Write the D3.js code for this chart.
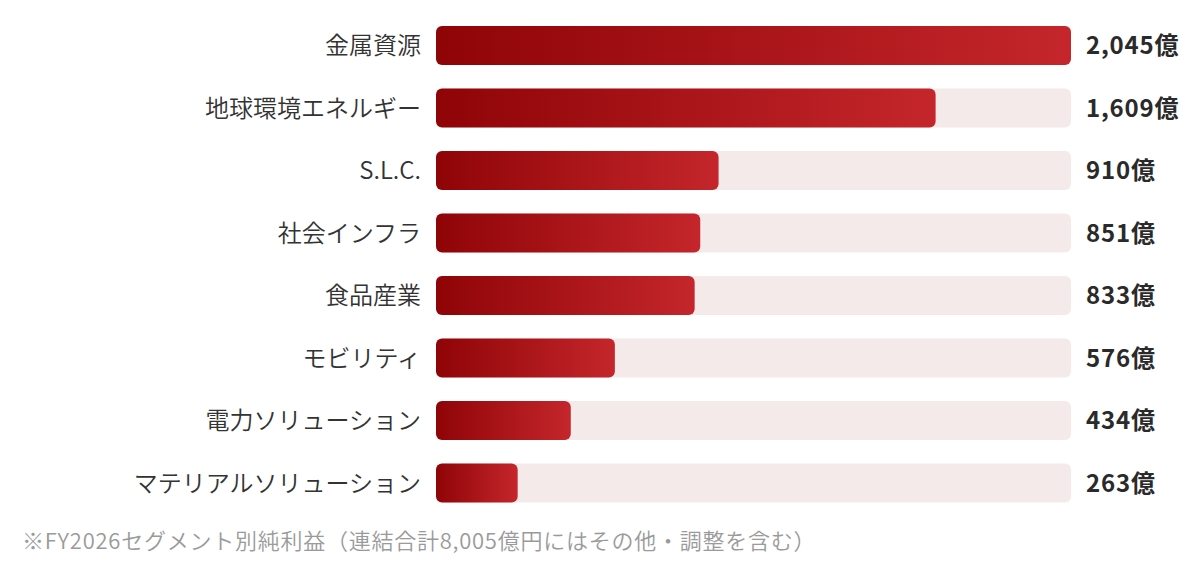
<!DOCTYPE html>
<html>
<head>
<meta charset="utf-8">
<script src="https://cdn.jsdelivr.net/npm/d3@7"></script>
<style>
  body { margin: 0; background: #fff; }
  svg { display: block; font-family: "Noto Sans CJK JP", "Noto Sans", sans-serif; }
  .label { font-size: 24px; fill: #333; font-weight: 350; }
  .value { font-size: 24px; font-weight: bold; fill: #2a2a2a; letter-spacing: 0.8px; }
  .note { font-size: 22px; fill: #9a9a9a; letter-spacing: 0.75px; font-weight: 350; }
</style>
</head>
<body>
<div id="chart"></div>
<script>
// segments and net profit (億円)
const segments = ["金属資源", "地球環境エネルギー", "S.L.C.", "社会インフラ", "食品産業", "モビリティ", "電力ソリューション", "マテリアルソリューション"];
const profits = [2045, 1609, 910, 851, 833, 576, 434, 263];
const valueLabels = ["2,045億", "1,609億", "910億", "851億", "833億", "576億", "434億", "263億"];
const footnote = "※FY2026セグメント別純利益（連結合計8,005億円にはその他・調整を含む）";

const width = 1200, height = 567;
const rows = segments.map((d, i) => ({name: d, value: profits[i], label: valueLabels[i]}));

const svg = d3.select("#chart").append("svg")
    .attr("width", width)
    .attr("height", height);

const defs = svg.append("defs");
const grad = defs.append("linearGradient")
    .attr("id", "barGrad")
    .attr("x1", "0%").attr("x2", "100%")
    .attr("y1", "0%").attr("y2", "0%");
grad.append("stop").attr("offset", "0%").attr("stop-color", "#8f0407");
grad.append("stop").attr("offset", "100%").attr("stop-color", "#c4262b");

// scales
const x = d3.scaleLinear()
    .domain([0, d3.max(profits)])
    .range([436, 1071]);

const y = d3.scaleBand()
    .domain(segments)
    .range([2.5, 526])
    .paddingInner(0.376)
    .paddingOuter(0.376);

const row = svg.selectAll("g.row").data(rows)
    .enter()
    .append("g")
    .attr("class", "row");

// background track
row.append("rect")
    .attr("x", x(0))
    .attr("y", d => y(d.name))
    .attr("width", x.range()[1] - x(0))
    .attr("height", y.bandwidth())
    .attr("rx", 6)
    .attr("fill", "#f5eaea");

// value bar
row.append("rect")
    .attr("x", x(0))
    .attr("y", d => y(d.name))
    .attr("width", d => x(d.value) - x(0))
    .attr("height", y.bandwidth())
    .attr("rx", 6)
    .attr("fill", "url(#barGrad)");

row.append("text")
    .attr("class", "label")
    .attr("x", 421)
    .attr("y", d => y(d.name) + y.bandwidth() / 2)
    .attr("dy", "0.36em")
    .attr("text-anchor", "end")
    .text(d => d.name);

row.append("text")
    .attr("class", "value")
    .attr("x", 1086)
    .attr("y", d => y(d.name) + y.bandwidth() / 2)
    .attr("dy", "0.36em")
    .text(d => d.label);

svg.append("text")
    .attr("class", "note")
    .attr("x", 22)
    .attr("y", 549)
    .text(footnote);
</script>
</body>
</html>
